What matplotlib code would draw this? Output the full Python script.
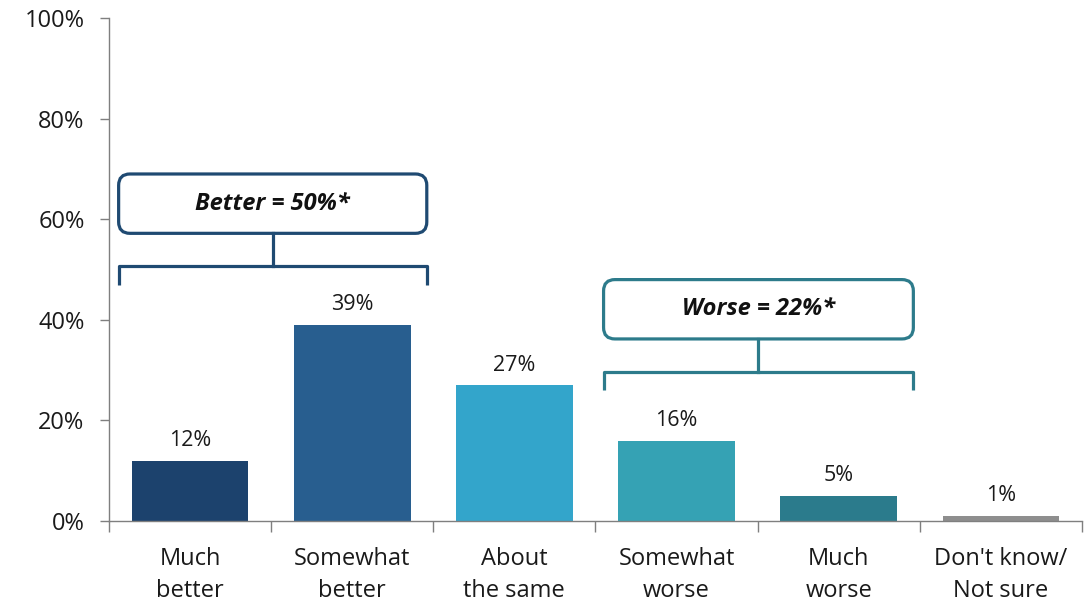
import matplotlib.pyplot as plt
from matplotlib.patches import FancyBboxPatch
from matplotlib.ticker import FixedLocator, FuncFormatter

plt.rcParams['font.family'] = ['Open Sans', 'DejaVu Sans']

categories = ['Much\nbetter', 'Somewhat\nbetter', 'About\nthe same',
              'Somewhat\nworse', 'Much\nworse', "Don't know/\nNot sure"]
values = [12, 39, 27, 16, 5, 1]
colors = ['#1c426d', '#285e8f', '#33a5cb', '#35a2b4', '#2b7b8c', '#8e8e8e']

better_label = 'Better = 50%*'
worse_label = 'Worse = 22%*'

fig = plt.figure(figsize=(10.89, 6.03), dpi=100)
ax = fig.add_axes([0.100, 0.136, 0.8936, 0.834])

x = list(range(len(categories)))
ax.bar(x, values, width=0.72, color=colors, zorder=2)
for xi, v in zip(x, values):
    ax.text(xi, v + 1.9, f'{v}%', ha='center', va='bottom', fontsize=15.5, color='#1a1a1a')

ax.set_xlim(-0.5, len(categories) - 0.5)
ax.set_ylim(0, 100)
ax.set_yticks(range(0, 101, 20))
ax.yaxis.set_major_formatter(FuncFormatter(lambda v, p: f'{v:.0f}%'))

# boundaries get the tick marks, centres carry the labels
ax.xaxis.set_major_locator(FixedLocator([i - 0.5 for i in range(len(categories) + 1)]))
ax.xaxis.set_major_formatter(FuncFormatter(lambda v, p: ''))
ax.xaxis.set_minor_locator(FixedLocator(x))
ax.set_xticklabels(categories, minor=True, linespacing=1.45)
ax.tick_params(axis='x', which='major', length=8, width=1, color='#7f7f7f', direction='out')
ax.tick_params(axis='x', which='minor', length=0, pad=19, labelsize=17, labelcolor='#1a1a1a')
ax.tick_params(axis='y', length=6.5, width=1, color='#7f7f7f', direction='out',
               labelsize=17, labelcolor='#1a1a1a', pad=11)

for side in ('top', 'right'):
    ax.spines[side].set_visible(False)
for side in ('left', 'bottom'):
    ax.spines[side].set_color('#7f7f7f')
    ax.spines[side].set_linewidth(1)

# px per data unit, for keeping the box corners round
x_px = 0.8936 * 1089 / 6
y_px = 0.834 * 603 / 100
aspect = x_px / y_px


def group_callout(x0, x1, box_bottom, box_top, bar_y, end_y, label, color):
    box = FancyBboxPatch((x0, box_bottom), x1 - x0, box_top - box_bottom,
                         boxstyle='round,pad=0,rounding_size=0.07',
                         mutation_aspect=aspect, facecolor='white',
                         edgecolor=color, linewidth=2.3, zorder=3)
    ax.add_patch(box)
    ax.text((x0 + x1) / 2, (box_bottom + box_top) / 2, label, ha='center', va='center',
            fontsize=17, fontweight='bold', fontstyle='italic', color='#111111', zorder=4)
    xm = (x0 + x1) / 2
    ax.plot([x0, x0, x1, x1], [end_y, bar_y, bar_y, end_y], color=color, lw=2.3,
            solid_joinstyle='round', solid_capstyle='butt', zorder=3)
    ax.plot([xm, xm], [bar_y, box_bottom], color=color, lw=2.3, zorder=3)


group_callout(-0.44, 1.46, 57.2, 69.0, 50.7, 47.0, better_label, '#1f4a72')
group_callout(2.55, 4.46, 36.2, 48.0, 29.6, 26.0, worse_label, '#2d7b8b')

fig.savefig('out.png', dpi=100)
